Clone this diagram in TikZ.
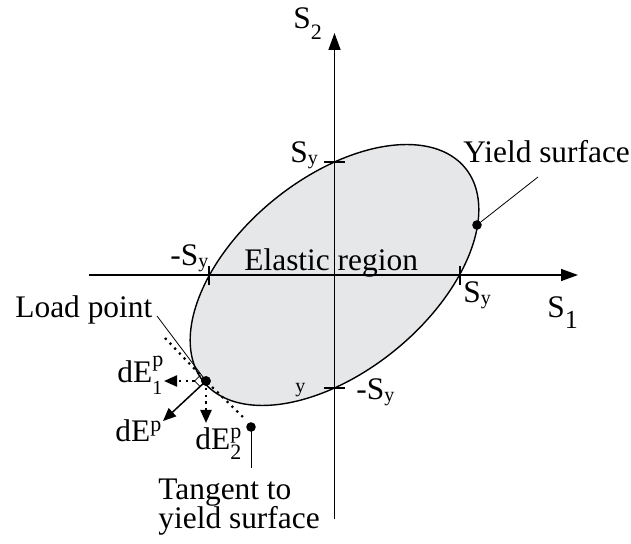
\documentclass[tikz,border=0pt]{standalone}
\usepackage{fontspec}
\setmainfont{Liberation Serif}
\usetikzlibrary{arrows.meta}
\definecolor{regiongray}{RGB}{230,231,233}
\newcommand{\lo}[3]{\raisebox{-#1}{\fontsize{#2}{#2}\selectfont #3}}
\newcommand{\hi}[3]{\raisebox{#1}{\fontsize{#2}{#2}\selectfont #3}}

\begin{document}
\begin{tikzpicture}[x=0.5pt,y=-0.5pt,>={Triangle[length=6.5pt,width=5.5pt]},
  lbl/.style={inner sep=0pt,anchor=base west,font=\fontsize{15.7}{14}\selectfont},
  dot/.style={circle,fill,inner sep=0pt,minimum size=4.8pt},
  lead/.style={line width=0.4pt},
  dots/.style={line width=1.1pt,dash pattern=on 1.1pt off 2.3pt},
  axis/.style={line width=0.75pt,-{Triangle[length=8.5pt,width=6pt]}}]
  \useasboundingbox (0,0) rectangle (631,544);
  \filldraw[fill=regiongray,line width=0.7pt]
    plot[domain=0:360,samples=181,variable=\t]
    ({334.5+125*(cos(\t)-sin(\t)/sqrt(3))},{275-113*(cos(\t)+sin(\t)/sqrt(3))}) -- cycle;
  \coordinate (xa) at (89,275);
  \coordinate (xb) at (578,275);
  \coordinate (ya) at (334.5,519);
  \coordinate (yb) at (334.5,33);
  \draw[axis] (xa) -- (xb);
  \draw[axis] (ya) -- (yb);
  \foreach \x in {209,460} \draw[line width=0.6pt] (\x,266) -- (\x,285);
  \foreach \y in {162,388} \draw[line width=0.6pt] (324,\y) -- (345,\y);
  \node[lbl] (s2) at (293,29) {S\lo{5.5pt}{11}{2}};
  \node[lbl] (sy) at (290,163) {S\lo{1pt}{10}{y}};
  \node[lbl] (yslbl) at (463,163) {Yield surface};
  \node[lbl] (msyl) at (170,266) {-S\lo{1pt}{10}{y}};
  \node[lbl] (el) at (244,271) {Elastic region};
  \node[lbl] (syr) at (463,303) {S\lo{1pt}{10}{y}};
  \node[lbl] (s1) at (547,318) {S\lo{5.5pt}{13}{1}};
  \node[lbl] (msyb) at (356,400) {-S\lo{1pt}{10}{y}};
  \node[lbl,font=\fontsize{10}{10}\selectfont] (ystray) at (295,393) {y};
  \node[lbl] (lplbl) at (15,318) {Load point};
  \node[lbl] (de1) at (117,383) {dE\rlap{\hi{8pt}{11}{p}}\lo{6pt}{10}{1}};
  \node[lbl] (dep) at (115,442) {dE\hi{5pt}{11}{p}};
  \node[lbl] (de2) at (195,450) {dE\rlap{\hi{5.5pt}{11}{p}}\lo{5pt}{11}{2}};
  \node[lbl,align=left] (tglbl) at (158,528) {Tangent to\\[-1pt]yield surface};
  \node[dot] (LP) at (206,381) {};
  \node[dot] (YS) at (477,225) {};
  \node[dot] (TD) at (251,427) {};
  \coordinate (ysend) at (538,177);
  \coordinate (lpend) at (157,316);
  \coordinate (tgend) at (251,468);
  \coordinate (tga) at (165,338);
  \coordinate (tgb) at (245,419);
  \coordinate (n0) at (163,421);
  \coordinate (n1) at (164,381);
  \coordinate (n2) at (206,423);
  \draw[lead] (ysend) -- (YS);
  \draw[lead] (lpend) -- (LP.center);
  \draw[lead] (TD.center) -- (tgend);
  \draw[dots] (tga) -- (LP.center) -- (tgb);
  \draw[lead] ([shift={(-5.7,-5.7)}]LP.center) -- ++(-5.7,5.7) -- ++(5.7,5.7);
  \draw[line width=0.75pt,->] (LP.center) -- (n0);
  \draw[dots,->] ([shift={(-11.4,0)}]LP.center) -- (n1);
  \draw[dots,->] (LP.center) -- (n2);
  \node[dot] at (LP) {};
\end{tikzpicture}
\end{document}
